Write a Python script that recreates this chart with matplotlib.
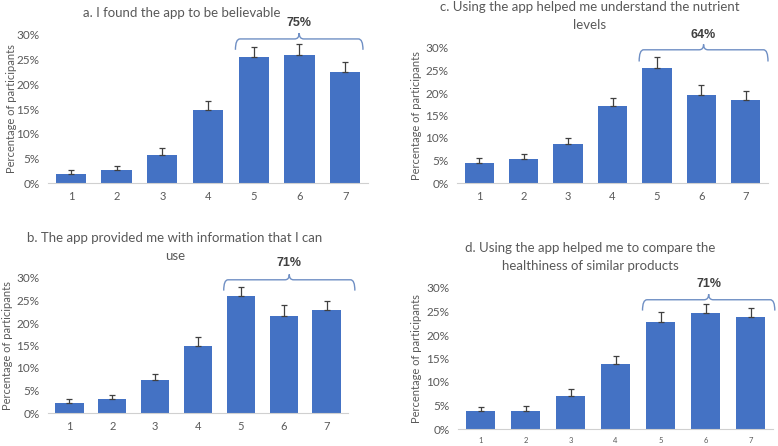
import matplotlib
matplotlib.use("Agg")
import matplotlib.pyplot as plt
from matplotlib.path import Path
from matplotlib.patches import PathPatch
import numpy as np

plt.rcParams["font.family"] = ["Lato", "DejaVu Sans"]

W, H = 778, 446

SCALE = [1, 2, 3, 4, 5, 6, 7]

a_vals = [1.8, 2.6, 5.7, 14.7, 25.5, 25.9, 22.6]
a_err = [0.8, 0.8, 1.3, 1.9, 2.0, 2.2, 2.0]
b_vals = [2.3, 3.2, 7.3, 15.0, 26.0, 21.6, 22.8]
b_err = [0.8, 0.8, 1.4, 1.8, 2.1, 2.3, 2.2]
c_vals = [4.5, 5.4, 8.6, 17.2, 25.6, 19.5, 18.4]
c_err = [1.1, 1.0, 1.4, 1.8, 2.3, 2.2, 2.1]
d_vals = [3.75, 3.75, 7.0, 13.8, 22.7, 24.6, 23.8]
d_err = [1.0, 1.25, 1.5, 1.8, 2.1, 1.9, 1.9]

titles = [["a. I found the app to be believable"],
          ["b. The app provided me with information that I can", "use"],
          ["c. Using the app helped me understand the nutrient", "levels"],
          ["d. Using the app helped me to compare the", "healthiness of similar products"]]
agree_labels = ["75%", "71%", "64%", "71%"]

BLUE = "#4472C4"
GREY = "#595959"

# pixel layout: axes box, title lines (x, first-line y), ylabel x, xtick size, brace top/bottom/label (in %)
panels = [
    dict(vals=a_vals, err=a_err, l=48, r=368, y0=183, y30=35, tx=182, ty=13, yl=12, xts=8,
         bt=29.2, bb=27.0, txt=32.4, bx1=7.39),
    dict(vals=b_vals, err=b_err, l=48, r=348, y0=413, y30=278, tx=175, ty=238, yl=8, xts=8,
         bt=29.6, bb=27.2, txt=33.4, bx1=7.66),
    dict(vals=c_vals, err=c_err, l=457, r=768, y0=183, y30=48, tx=590, ty=7, yl=417, xts=8,
         bt=29.6, bb=27.0, txt=33.0, bx1=7.5),
    dict(vals=d_vals, err=d_err, l=458, r=773, y0=429, y30=288, tx=590, ty=248, yl=417, xts=5.5,
         bt=27.5, bb=25.2, txt=30.9, bx1=7.54),
]
LINE_GAP = 18  # px between title lines

fig = plt.figure(figsize=(W / 100, H / 100), dpi=100)

for p, title, lab in zip(panels, titles, agree_labels):
    ax = fig.add_axes([p["l"] / W, 1 - p["y0"] / H, (p["r"] - p["l"]) / W, (p["y0"] - p["y30"]) / H])
    ax.bar(SCALE, p["vals"], width=0.66, color=BLUE, zorder=2)
    ax.errorbar(SCALE, p["vals"], yerr=[np.zeros(len(SCALE)), p["err"]], fmt="none",
                ecolor="#404040", elinewidth=0.9, capsize=2.5, capthick=0.9, zorder=3)
    ax.set_xlim(0.5, 7.5)
    ax.set_ylim(0, 30)
    ax.set_yticks(range(0, 31, 5))
    ax.set_yticklabels([f"{v}%" for v in range(0, 31, 5)], color=GREY, fontsize=8.5)
    ax.set_xticks(SCALE)
    ax.set_xticklabels([str(s) for s in SCALE], color=GREY, fontsize=p["xts"])
    ax.tick_params(length=0, pad=6)
    for s in ["top", "right", "left"]:
        ax.spines[s].set_visible(False)
    ax.spines["bottom"].set_color("#d0d0d0")

    # curly brace over answers 5-7
    x0, x1 = 4.6, p["bx1"]
    xm = (x0 + x1) / 2
    yt, yb = p["bt"], p["bb"]
    h = 1.2
    dx = 0.1
    verts = [(x0, yb), (x0, yt), (x0 + dx, yt),
             (xm - dx, yt), (xm, yt), (xm, yt + h),
             (xm, yt), (xm + dx, yt),
             (x1 - dx, yt), (x1, yt), (x1, yb)]
    codes = [Path.MOVETO, Path.CURVE3, Path.CURVE3,
             Path.LINETO, Path.CURVE3, Path.CURVE3,
             Path.CURVE3, Path.CURVE3,
             Path.LINETO, Path.CURVE3, Path.CURVE3]
    ax.add_patch(PathPatch(Path(verts, codes), fill=False, edgecolor="#6f8fc4",
                           linewidth=1.0, clip_on=False))
    ax.text(xm, p["txt"], lab, ha="center", va="center", fontsize=9, fontweight="bold",
            color="#404040", family=["Liberation Sans", "DejaVu Sans"], clip_on=False)

    for i, line in enumerate(title):
        fig.text(p["tx"] / W, 1 - (p["ty"] + i * LINE_GAP) / H, line, ha="center", va="center",
                 fontsize=9.5, color=GREY)
    fig.text(p["yl"] / W, 1 - (p["y0"] + p["y30"]) / 2 / H, "Percentage of participants",
             rotation=90, ha="center", va="center", fontsize=8, color=GREY)

fig.savefig("out.png", dpi=100)
